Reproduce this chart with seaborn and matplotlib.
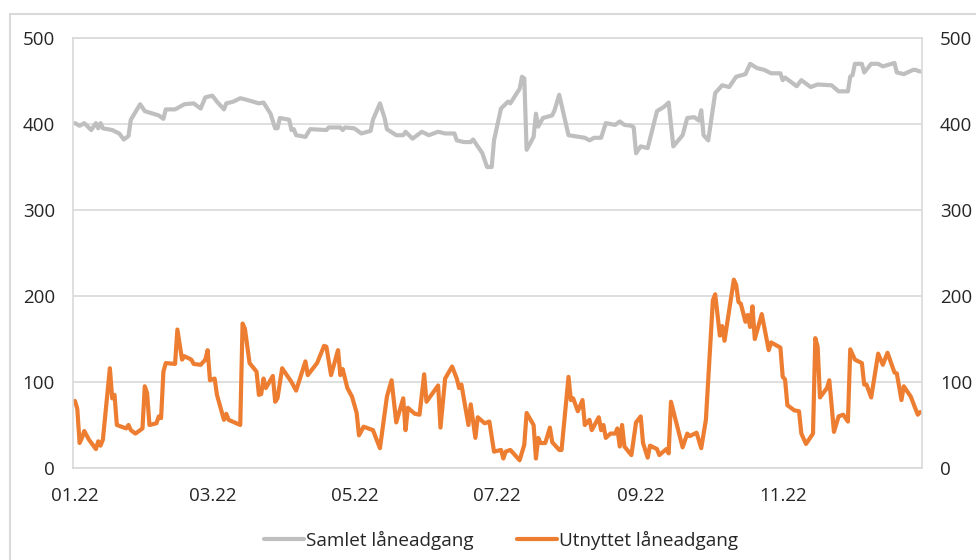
import numpy as np
import pandas as pd
import matplotlib
matplotlib.use('Agg')
import matplotlib.pyplot as plt
import seaborn as sns
from matplotlib.patches import Rectangle

#%% Data (2022, mrd. kr)
samlet_dato = ['2022-01-01', '2022-01-03', '2022-01-05', '2022-01-08', '2022-01-10', '2022-01-11',
               '2022-01-12', '2022-01-13', '2022-01-17', '2022-01-20', '2022-01-22', '2022-01-24',
               '2022-01-25', '2022-01-29', '2022-01-31', '2022-02-06', '2022-02-08', '2022-02-09',
               '2022-02-13', '2022-02-17', '2022-02-21', '2022-02-24', '2022-02-26', '2022-03-01',
               '2022-03-03', '2022-03-06', '2022-03-07', '2022-03-10', '2022-03-13', '2022-03-16',
               '2022-03-21', '2022-03-23', '2022-03-26', '2022-03-28', '2022-03-29', '2022-03-30',
               '2022-04-03', '2022-04-04', '2022-04-05', '2022-04-06', '2022-04-10', '2022-04-12',
               '2022-04-19', '2022-04-20', '2022-04-25', '2022-04-26', '2022-04-27', '2022-05-01',
               '2022-05-04', '2022-05-08', '2022-05-09', '2022-05-12', '2022-05-14', '2022-05-15',
               '2022-05-19', '2022-05-22', '2022-05-23', '2022-05-26', '2022-05-30', '2022-06-02',
               '2022-06-06', '2022-06-09', '2022-06-13', '2022-06-14', '2022-06-17', '2022-06-20',
               '2022-06-21', '2022-06-25', '2022-06-27', '2022-06-29', '2022-06-30', '2022-07-03',
               '2022-07-06', '2022-07-07', '2022-07-11', '2022-07-12', '2022-07-13', '2022-07-14',
               '2022-07-17', '2022-07-18', '2022-07-19', '2022-07-21', '2022-07-25', '2022-07-26',
               '2022-07-28', '2022-08-01', '2022-08-08', '2022-08-10', '2022-08-12', '2022-08-15',
               '2022-08-17', '2022-08-21', '2022-08-23', '2022-08-25', '2022-08-28', '2022-08-29',
               '2022-08-30', '2022-09-01', '2022-09-04', '2022-09-08', '2022-09-11', '2022-09-13',
               '2022-09-15', '2022-09-19', '2022-09-21', '2022-09-24', '2022-09-26', '2022-09-27',
               '2022-09-28', '2022-09-30', '2022-10-03', '2022-10-06', '2022-10-09', '2022-10-12',
               '2022-10-16', '2022-10-18', '2022-10-21', '2022-10-24', '2022-10-27', '2022-10-31',
               '2022-11-01', '2022-11-02', '2022-11-05', '2022-11-07', '2022-11-09', '2022-11-13',
               '2022-11-16', '2022-11-22', '2022-11-25', '2022-11-29', '2022-11-30', '2022-12-01',
               '2022-12-02', '2022-12-05', '2022-12-06', '2022-12-09', '2022-12-12', '2022-12-14',
               '2022-12-19', '2022-12-20', '2022-12-23', '2022-12-27', '2022-12-28', '2022-12-30']
samlet = [401, 398, 401, 393, 401, 395,
          401, 395, 393, 389, 382, 386,
          405, 423, 415, 410, 406, 417,
          417, 423, 424, 418, 431, 433,
          426, 417, 424, 426, 430, 428,
          424, 425, 412, 395, 395, 407,
          405, 393, 394, 387, 385, 394,
          393, 396, 396, 393, 396, 395,
          389, 392, 405, 424, 407, 394,
          387, 387, 391, 383, 391, 387,
          391, 389, 389, 381, 379, 379,
          382, 366, 350, 350, 381, 418,
          426, 424, 441, 455, 453, 370,
          385, 412, 397, 407, 410, 416,
          434, 387, 384, 381, 384, 384,
          401, 399, 403, 399, 398, 396,
          366, 374, 372, 415, 420, 425,
          374, 387, 407, 408, 404, 416,
          387, 381, 436, 445, 443, 455,
          458, 470, 465, 463, 459, 459,
          451, 454, 448, 444, 451, 443,
          446, 445, 438, 438, 455, 457,
          470, 470, 460, 470, 470, 467,
          471, 460, 458, 463, 463, 461]

utnyttet_dato = ['2022-01-01', '2022-01-02', '2022-01-03', '2022-01-04', '2022-01-05', '2022-01-07',
                 '2022-01-10', '2022-01-11', '2022-01-12', '2022-01-13', '2022-01-16', '2022-01-17',
                 '2022-01-18', '2022-01-19', '2022-01-23', '2022-01-24', '2022-01-25', '2022-01-27',
                 '2022-01-30', '2022-01-31', '2022-02-01', '2022-02-02', '2022-02-05', '2022-02-06',
                 '2022-02-07', '2022-02-08', '2022-02-09', '2022-02-13', '2022-02-14', '2022-02-16',
                 '2022-02-17', '2022-02-20', '2022-02-21', '2022-02-24', '2022-02-26', '2022-02-27',
                 '2022-02-28', '2022-03-02', '2022-03-03', '2022-03-06', '2022-03-07', '2022-03-08',
                 '2022-03-13', '2022-03-14', '2022-03-15', '2022-03-17', '2022-03-20', '2022-03-21',
                 '2022-03-22', '2022-03-23', '2022-03-24', '2022-03-27', '2022-03-28', '2022-03-29',
                 '2022-03-31', '2022-04-04', '2022-04-06', '2022-04-10', '2022-04-11', '2022-04-15',
                 '2022-04-18', '2022-04-19', '2022-04-21', '2022-04-24', '2022-04-25', '2022-04-26',
                 '2022-04-28', '2022-04-30', '2022-05-02', '2022-05-03', '2022-05-05', '2022-05-09',
                 '2022-05-12', '2022-05-15', '2022-05-17', '2022-05-19', '2022-05-22', '2022-05-23',
                 '2022-05-24', '2022-05-27', '2022-05-29', '2022-05-31', '2022-06-01', '2022-06-06',
                 '2022-06-07', '2022-06-09', '2022-06-12', '2022-06-14', '2022-06-15', '2022-06-16',
                 '2022-06-19', '2022-06-20', '2022-06-22', '2022-06-23', '2022-06-26', '2022-06-28',
                 '2022-06-30', '2022-07-03', '2022-07-04', '2022-07-05', '2022-07-07', '2022-07-11',
                 '2022-07-13', '2022-07-14', '2022-07-17', '2022-07-18', '2022-07-19', '2022-07-20',
                 '2022-07-22', '2022-07-24', '2022-07-25', '2022-07-28', '2022-07-29', '2022-08-01',
                 '2022-08-02', '2022-08-03', '2022-08-05', '2022-08-07', '2022-08-08', '2022-08-10',
                 '2022-08-11', '2022-08-14', '2022-08-15', '2022-08-16', '2022-08-17', '2022-08-19',
                 '2022-08-21', '2022-08-22', '2022-08-23', '2022-08-24', '2022-08-25', '2022-08-28',
                 '2022-08-30', '2022-09-01', '2022-09-02', '2022-09-04', '2022-09-05', '2022-09-08',
                 '2022-09-09', '2022-09-12', '2022-09-13', '2022-09-14', '2022-09-19', '2022-09-21',
                 '2022-09-22', '2022-09-25', '2022-09-27', '2022-09-29', '2022-10-02', '2022-10-03',
                 '2022-10-05', '2022-10-06', '2022-10-07', '2022-10-11', '2022-10-12', '2022-10-13',
                 '2022-10-14', '2022-10-16', '2022-10-17', '2022-10-18', '2022-10-19', '2022-10-20',
                 '2022-10-23', '2022-10-26', '2022-10-27', '2022-10-31', '2022-11-01', '2022-11-02',
                 '2022-11-03', '2022-11-06', '2022-11-08', '2022-11-09', '2022-11-11', '2022-11-14',
                 '2022-11-15', '2022-11-16', '2022-11-17', '2022-11-20', '2022-11-21', '2022-11-22',
                 '2022-11-23', '2022-11-25', '2022-11-27', '2022-11-29', '2022-11-30', '2022-12-02',
                 '2022-12-05', '2022-12-06', '2022-12-07', '2022-12-09', '2022-12-12', '2022-12-14',
                 '2022-12-16', '2022-12-19', '2022-12-20', '2022-12-22', '2022-12-23', '2022-12-26',
                 '2022-12-29', '2022-12-30']
utnyttet = [78, 69, 29, 35, 43, 33,
            22, 31, 26, 33, 116, 81,
            85, 50, 46, 50, 44, 40,
            46, 95, 87, 50, 52, 60,
            58, 112, 122, 121, 161, 126,
            130, 126, 121, 120, 126, 137,
            102, 104, 85, 56, 63, 56,
            50, 168, 162, 122, 112, 85,
            86, 104, 93, 107, 77, 81,
            116, 100, 90, 124, 108, 122,
            142, 141, 108, 137, 108, 115,
            93, 83, 64, 38, 48, 44,
            23, 83, 102, 53, 81, 44,
            70, 63, 62, 109, 77, 96,
            47, 104, 118, 104, 93, 97,
            50, 74, 35, 59, 52, 54,
            19, 21, 11, 19, 21, 9,
            27, 64, 50, 11, 35, 29,
            29, 47, 30, 21, 21, 106,
            79, 81, 66, 79, 50, 56,
            44, 59, 44, 50, 35, 40,
            40, 46, 25, 50, 25, 15,
            53, 60, 29, 12, 26, 22,
            15, 22, 17, 77, 24, 40,
            37, 41, 23, 56, 195, 202,
            154, 165, 148, 219, 213, 193,
            191, 170, 178, 164, 188, 150,
            179, 137, 146, 140, 106, 103,
            73, 67, 66, 40, 28, 40,
            151, 141, 82, 93, 102, 73,
            42, 60, 62, 54, 138, 126,
            122, 97, 97, 82, 133, 120,
            134, 111, 110, 79, 95, 83,
            62, 65]

etikett_samlet = 'Samlet låneadgang'
etikett_utnyttet = 'Utnyttet låneadgang'
y_ticks = [0, 100, 200, 300, 400, 500]
x_ticks = ['2022-01-01', '2022-03-01', '2022-05-01', '2022-07-01', '2022-09-01', '2022-11-01']
x_ticklabels = ['01.22', '03.22', '05.22', '07.22', '09.22', '11.22']

df_samlet = pd.DataFrame({'dato': pd.to_datetime(samlet_dato), 'verdi': samlet})
df_utnyttet = pd.DataFrame({'dato': pd.to_datetime(utnyttet_dato), 'verdi': utnyttet})

#%% Plot
sns.set_theme(style='white')
plt.rcParams['font.family'] = ['Open Sans', 'DejaVu Sans']

grid_col = '#d9d9d9'
txt_col = '#262626'

fig = plt.figure(figsize=(9.76, 5.6), dpi=100)
ax = fig.add_axes([0.0748, 0.1643, 0.8699, 0.7678])

sns.lineplot(x='dato', y='verdi', data=df_samlet, estimator=None, sort=False,
             color='#bfbfbf', linewidth=3, label=etikett_samlet, ax=ax)
sns.lineplot(x='dato', y='verdi', data=df_utnyttet, estimator=None, sort=False,
             color='#ed7d31', linewidth=3, label=etikett_utnyttet, ax=ax)

ax.set_ylim(0, 500)
ax.set_yticks(y_ticks)
ax.set_xlim(pd.Timestamp('2022-01-01') - pd.Timedelta(hours=20),
            pd.Timestamp('2022-12-30') + pd.Timedelta(hours=20))
ax.set_xticks(pd.to_datetime(x_ticks))
ax.set_xticklabels(x_ticklabels)
ax.set_xlabel('')
ax.set_ylabel('')

ax.grid(axis='y', color=grid_col, linewidth=1.2)
ax.set_axisbelow(True)
for sp in ax.spines.values():
    sp.set_color(grid_col)
    sp.set_linewidth(1.2)

ax.tick_params(axis='y', which='both', length=0, left=False, right=False,
               labelleft=True, labelright=True, pad=13, labelsize=13.5, labelcolor=txt_col)
ax.tick_params(axis='x', which='both', length=0, bottom=False, pad=13.5,
               labelsize=13.5, labelcolor=txt_col)

ax.legend(loc='center', bbox_to_anchor=(501 / 976, 1 - 540 / 560), bbox_transform=fig.transFigure,
          ncol=2, frameon=False, fontsize=13.6, handlelength=2.1, handletextpad=0.1,
          columnspacing=2.3, labelcolor=txt_col)

# outer frame of the figure
fig.patches.append(Rectangle((10 / 976, -0.1), 1.2, 1.1 - 14 / 560, transform=fig.transFigure,
                             fill=False, edgecolor=grid_col, linewidth=1.5))

fig.savefig('out.png', dpi=100)
